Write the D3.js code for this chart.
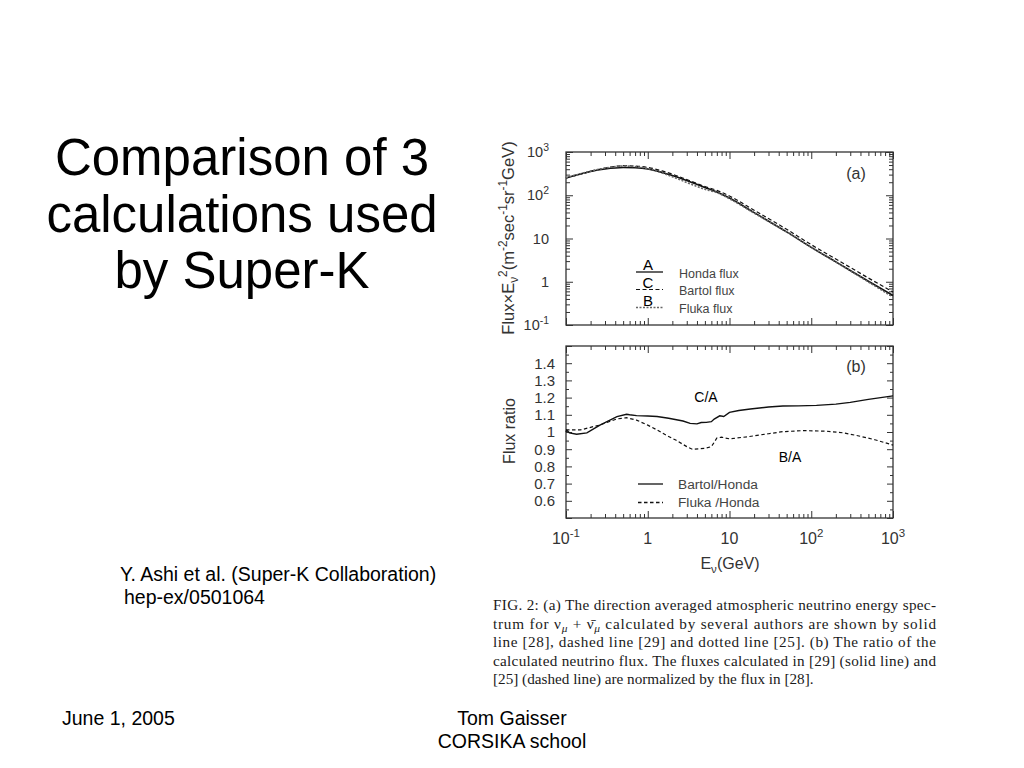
<!DOCTYPE html>
<html>
<head>
<meta charset="utf-8">
<script src="https://cdn.jsdelivr.net/npm/d3@7"></script>
<style>
  body { margin: 0; background: #fff; }
  svg { display: block; font-family: 'Liberation Sans', Arial, sans-serif; }
</style>
</head>
<body>
<div id="slide"></div>
<script>
// values (E in GeV)
var fluxEnergy = [0.1, 0.15, 0.2, 0.3, 0.5, 0.7, 1, 1.5, 2, 3, 5, 7, 10, 20, 50, 100, 200, 500, 1000];
var hondaFlux  = [251, 310, 354, 404, 438, 431, 404, 336, 286, 219, 151, 119, 86, 39.7, 14.2, 6.25, 2.88, 1.03, 0.48];
var bartolFlux = [251, 307, 358, 424, 482, 472, 440, 365, 307, 231, 159, 130, 96, 45, 16.3, 7.2, 3.36, 1.22, 0.58];
var flukaFlux  = [254, 313, 361, 424, 473, 461, 416, 329, 269, 197, 137, 115, 83, 38.7, 14.2, 6.3, 2.87, 0.99, 0.44];

var bartolRatioE = [0.1, 0.102, 0.11, 0.135, 0.18, 0.26, 0.35, 0.42, 0.55, 0.6, 0.73, 1.0, 1.3, 1.8, 2.7, 3.3, 4.0, 4.5, 5.2, 6.0, 6.5, 7.6, 8.5, 10, 13, 18, 30, 45, 70, 116, 200, 300, 500, 1000];
var bartolRatio  = [1.0, 1.01, 0.995, 0.987, 0.995, 1.04, 1.07, 1.089, 1.103, 1.1, 1.095, 1.093, 1.09, 1.08, 1.064, 1.05, 1.047, 1.055, 1.056, 1.06, 1.075, 1.094, 1.09, 1.114, 1.125, 1.134, 1.145, 1.151, 1.152, 1.155, 1.162, 1.172, 1.19, 1.21];
var flukaRatioE = [0.1, 0.15, 0.26, 0.42, 0.55, 0.73, 1.0, 1.3, 1.7, 2.2, 3.0, 3.5, 5.0, 6.0, 6.5, 7.0, 8.0, 10, 17, 30, 45, 80, 150, 250, 400, 600, 1000];
var flukaRatio  = [1.012, 1.012, 1.041, 1.076, 1.083, 1.069, 1.04, 1.012, 0.98, 0.953, 0.915, 0.9, 0.905, 0.915, 0.94, 0.965, 0.97, 0.96, 0.973, 0.99, 1.002, 1.008, 1.005, 0.995, 0.975, 0.955, 0.924];

var decadeTicks = [0.1, 1, 10, 100, 1000];
var decadeLabels = [['10', '-1'], ['1', ''], ['10', ''], ['10', '2'], ['10', '3']];
var ratioTicks = [0.6, 0.7, 0.8, 0.9, 1.0, 1.1, 1.2, 1.3, 1.4];
var ratioLabels = ['0.6', '0.7', '0.8', '0.9', '1', '1.1', '1.2', '1.3', '1.4'];

var captionLines = [
  'FIG. 2: (a) The direction averaged atmospheric neutrino energy spec-',
  null, // line with the neutrino symbols, built below
  'line [28], dashed line [29] and dotted line [25].  (b) The ratio of the',
  'calculated neutrino flux. The fluxes calculated in [29] (solid line) and',
  '[25] (dashed line) are normalized by the flux in [28].'
];

var svg = d3.select('#slide').append('svg')
  .attr('width', 1024).attr('height', 768);
svg.append('rect').attr('width', 1024).attr('height', 768).attr('fill', '#fff');

var ink = '#333';

// ---------- slide text ----------
var title = svg.append('text')
  .attr('text-anchor', 'middle')
  .attr('font-size', 51)
  .attr('fill', '#000');
['Comparison of 3', 'calculations used', 'by Super-K'].forEach(function (t, i) {
  title.append('tspan').attr('x', 242).attr('y', 175 + i * 56.5).text(t);
});

svg.append('text').attr('x', 120).attr('y', 581).attr('font-size', 19.5)
  .text('Y. Ashi et al. (Super-K Collaboration)');
svg.append('text').attr('x', 124).attr('y', 604).attr('font-size', 19.5)
  .text('hep-ex/0501064');

svg.append('text').attr('x', 62).attr('y', 725).attr('font-size', 19.5).text('June 1, 2005');
svg.append('text').attr('x', 512).attr('y', 725).attr('font-size', 19.5)
  .attr('text-anchor', 'middle').text('Tom Gaisser');
svg.append('text').attr('x', 512).attr('y', 748).attr('font-size', 19.5)
  .attr('text-anchor', 'middle').text('CORSIKA school');

// ---------- scales ----------
var x = d3.scaleLog().domain([0.1, 1000]).range([566, 893]);
var yFlux = d3.scaleLog().domain([0.1, 1000]).range([325, 152]);
var yRatio = d3.scaleLinear().domain([0.5, 1.5]).range([518, 346]);

var logMinor = [];
[0.1, 1, 10, 100].forEach(function (d) {
  for (var k = 2; k <= 9; k++) logMinor.push(d * k);
});
var ratioMinor = d3.range(11).map(function (i) { return 0.55 + i * 0.1; }).filter(function (v) { return v < 1.5; });
var ratioMajor = d3.range(11).map(function (i) { return 0.5 + i * 0.1; });

function tickAxis(g, axisFn, scale, values, len, translate) {
  g.append('g')
    .attr('transform', translate)
    .call(axisFn(scale).tickValues(values).tickSize(-len).tickFormat(''))
    .call(function (s) {
      s.select('.domain').remove();
      s.selectAll('line').attr('stroke', ink).attr('stroke-width', 1);
    });
}

function drawPanel(yScale, yMajor, yMinor, yMajLen, yMinLen) {
  var g = svg.append('g');
  var x0 = x.range()[0], x1 = x.range()[1];
  var yb = yScale.range()[0], yt = yScale.range()[1];
  tickAxis(g, d3.axisBottom, x, decadeTicks, 7, 'translate(0,' + yb + ')');
  tickAxis(g, d3.axisBottom, x, logMinor, 4, 'translate(0,' + yb + ')');
  tickAxis(g, d3.axisTop, x, decadeTicks, 7, 'translate(0,' + yt + ')');
  tickAxis(g, d3.axisTop, x, logMinor, 4, 'translate(0,' + yt + ')');
  tickAxis(g, d3.axisLeft, yScale, yMajor, yMajLen, 'translate(' + x0 + ',0)');
  tickAxis(g, d3.axisLeft, yScale, yMinor, yMinLen, 'translate(' + x0 + ',0)');
  tickAxis(g, d3.axisRight, yScale, yMajor, yMajLen, 'translate(' + x1 + ',0)');
  tickAxis(g, d3.axisRight, yScale, yMinor, yMinLen, 'translate(' + x1 + ',0)');
  g.append('rect')
    .attr('x', x0).attr('y', yt)
    .attr('width', x1 - x0).attr('height', yb - yt)
    .attr('fill', 'none').attr('stroke', ink).attr('stroke-width', 1.3);
  return g;
}

function powerLabel(sel, base, exp) {
  sel.append('tspan').text(base);
  if (exp) sel.append('tspan').attr('dy', '-0.6em').attr('font-size', '0.72em').text(exp);
}

// ---------- panel (a) ----------
var pa = drawPanel(yFlux, decadeTicks, logMinor, 7, 4);

decadeTicks.forEach(function (v, i) {
  var t = pa.append('text')
    .attr('x', 549).attr('y', yFlux(v)).attr('dy', '0.36em')
    .attr('text-anchor', 'end').attr('font-size', 14.5).attr('fill', ink);
  powerLabel(t, decadeLabels[i][0], decadeLabels[i][1]);
});

var fluxLine = d3.line()
  .x(function (d) { return x(d[0]); })
  .y(function (d) { return yFlux(d[1]); })
  .curve(d3.curveMonotoneX);

var fluxSeries = [
  { name: 'Honda flux', letter: 'A', values: hondaFlux, dash: null, color: '#111', width: 1.6 },
  { name: 'Bartol flux', letter: 'C', values: bartolFlux, dash: '4,2.5', color: '#111', width: 1.2 },
  { name: 'Fluka flux', letter: 'B', values: flukaFlux, dash: '2,1.5', color: '#666', width: 1.6 }
];

fluxSeries.forEach(function (s) {
  pa.append('path')
    .datum(fluxEnergy.map(function (e, i) { return [e, s.values[i]]; }))
    .attr('d', fluxLine)
    .attr('fill', 'none')
    .attr('stroke', s.color)
    .attr('stroke-width', s.width)
    .attr('stroke-dasharray', s.dash);
});

// legend (a) with the A/C/B letters written over it
var legendRowsA = [273, 290.5, 308.5];
fluxSeries.forEach(function (s, i) {
  var ly = legendRowsA[i];
  pa.append('line')
    .attr('x1', 636).attr('x2', 663).attr('y1', ly - 1).attr('y2', ly - 1)
    .attr('stroke', s.color).attr('stroke-width', s.dash ? s.width : 1.3)
    .attr('stroke-dasharray', s.dash);
  pa.append('text')
    .attr('x', 679).attr('y', ly).attr('dy', '0.36em')
    .attr('font-size', 12.5).attr('fill', '#444').text(s.name);
  pa.append('text')
    .attr('x', 648).attr('y', ly - 8).attr('dy', '0.36em')
    .attr('text-anchor', 'middle').attr('font-size', 15).attr('fill', '#000').text(s.letter);
});

pa.append('text').attr('x', 856).attr('y', 173).attr('dy', '0.36em')
  .attr('text-anchor', 'middle').attr('font-size', 16).attr('fill', ink).text('(a)');

// rotated y title for panel (a)
var ta = pa.append('text')
  .attr('transform', 'translate(514,238) rotate(-90)')
  .attr('text-anchor', 'middle').attr('font-size', 16.5).attr('fill', ink);
var sub = [
  ['Flux\u00d7E', 0], ['\u03bd', 4], ['2', -11], ['(m', 7], ['-2', -7], ['sec', 7],
  ['-1', -7], ['sr', 7], ['-1', -7], ['GeV)', 7]
];
sub.forEach(function (p, i) {
  var small = (i === 1 || i === 2 || p[0].charAt(0) === '-');
  ta.append('tspan').attr('dy', p[1]).attr('font-size', small ? '0.72em' : null).text(p[0]);
});

// ---------- panel (b) ----------
var pb = drawPanel(yRatio, ratioMajor, ratioMinor, 6, 3);

ratioTicks.forEach(function (v, i) {
  pb.append('text')
    .attr('x', 555).attr('y', yRatio(v)).attr('dy', '0.36em')
    .attr('text-anchor', 'end').attr('font-size', 15).attr('fill', ink)
    .text(ratioLabels[i]);
});

decadeTicks.forEach(function (v, i) {
  var t = pb.append('text')
    .attr('x', x(v)).attr('y', 544)
    .attr('text-anchor', 'middle').attr('font-size', 16).attr('fill', ink);
  powerLabel(t, decadeLabels[i][0], decadeLabels[i][1]);
});

var ratioLine = d3.line()
  .x(function (d) { return x(d[0]); })
  .y(function (d) { return yRatio(d[1]); });

pb.append('path')
  .datum(bartolRatioE.map(function (e, i) { return [e, bartolRatio[i]]; }))
  .attr('d', ratioLine).attr('fill', 'none')
  .attr('stroke', '#111').attr('stroke-width', 1.4);
pb.append('path')
  .datum(flukaRatioE.map(function (e, i) { return [e, flukaRatio[i]]; }))
  .attr('d', ratioLine).attr('fill', 'none')
  .attr('stroke', '#111').attr('stroke-width', 1.2).attr('stroke-dasharray', '3.5,2.5');

pb.append('text').attr('x', 706).attr('y', 397).attr('dy', '0.36em')
  .attr('text-anchor', 'middle').attr('font-size', 14).attr('fill', '#000').text('C/A');
pb.append('text').attr('x', 790).attr('y', 457).attr('dy', '0.36em')
  .attr('text-anchor', 'middle').attr('font-size', 14).attr('fill', '#000').text('B/A');
pb.append('text').attr('x', 856).attr('y', 366).attr('dy', '0.36em')
  .attr('text-anchor', 'middle').attr('font-size', 16).attr('fill', ink).text('(b)');

[['Bartol/Honda', null, 484], ['Fluka /Honda', '3.5,2.5', 502.5]].forEach(function (r) {
  pb.append('line').attr('x1', 638).attr('x2', 663).attr('y1', r[2]).attr('y2', r[2])
    .attr('stroke', '#111').attr('stroke-width', 1.3).attr('stroke-dasharray', r[1]);
  pb.append('text').attr('x', 678).attr('y', r[2]).attr('dy', '0.36em')
    .attr('font-size', 13.7).attr('fill', '#444').text(r[0]);
});

pb.append('text')
  .attr('transform', 'translate(515,431) rotate(-90)')
  .attr('text-anchor', 'middle').attr('font-size', 16).attr('fill', ink)
  .text('Flux ratio');

var xt = pb.append('text').attr('x', 730).attr('y', 569)
  .attr('text-anchor', 'middle').attr('font-size', 16).attr('fill', ink);
xt.append('tspan').text('E');
xt.append('tspan').attr('dy', 4).attr('font-size', '0.72em').text('\u03bd');
xt.append('tspan').attr('dy', -4).text('(GeV)');

// ---------- caption ----------
var cap = svg.append('g')
  .attr('font-family', "'Liberation Serif', 'Times New Roman', serif")
  .attr('font-size', 15.2).attr('fill', '#1a1a1a');
captionLines.forEach(function (line, i) {
  var t = cap.append('text').attr('x', 493).attr('y', 610 + i * 18.5);
  if (i < 4) t.attr('textLength', 443).attr('lengthAdjust', 'spacing');
  if (line) {
    t.text(line);
  } else {
    t.append('tspan').text('trum for \u03bd');
    t.append('tspan').attr('dy', 3).attr('font-size', '0.75em').attr('font-style', 'italic').text('\u03bc');
    t.append('tspan').attr('dy', -3).text(' + \u03bd\u0304');
    t.append('tspan').attr('dy', 3).attr('font-size', '0.75em').attr('font-style', 'italic').text('\u03bc');
    t.append('tspan').attr('dy', -3).text(' calculated by several authors are shown by solid');
  }
});
</script>
</body>
</html>
